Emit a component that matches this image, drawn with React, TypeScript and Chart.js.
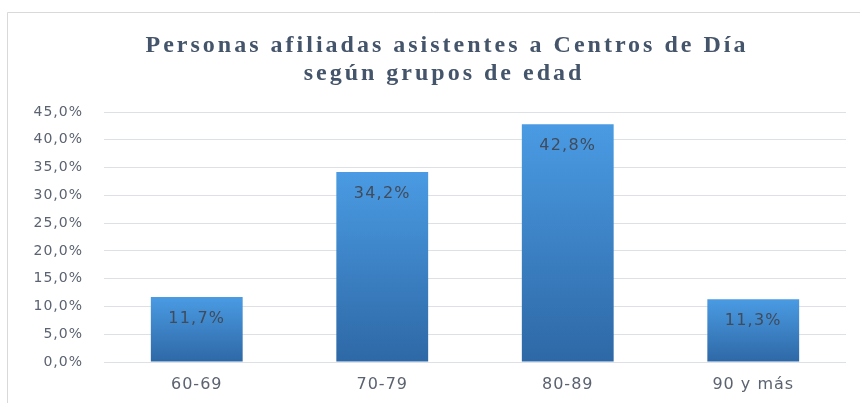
import React, { useEffect, useRef } from "react";
import { Chart, registerables } from "chart.js";

Chart.register(...registerables);

const categories = ["60-69", "70-79", "80-89", "90 y más"];
const values = [11.7, 34.2, 42.8, 11.3];
const titleLines = ["Personas afiliadas asistentes a Centros de Día", "según grupos de edad"];
const yMax = 45;
const yStep = 5;

const fmt = (v: number) => v.toFixed(1).replace(".", ",") + "%";

export default function App() {
  const ref = useRef<HTMLCanvasElement | null>(null);
  useEffect(() => {
    const canvas = ref.current;
    if (!canvas) return;

    const frame = {
      id: "frame",
      beforeDraw(chart: any) {
        const c = chart.ctx;
        c.save();
        c.fillStyle = "#ffffff";
        c.fillRect(0, 0, chart.width, chart.height);
        c.strokeStyle = "#d9d9d9";
        c.lineWidth = 1;
        c.beginPath();
        c.moveTo(7.5, chart.height);
        c.lineTo(7.5, 12.5);
        c.lineTo(chart.width, 12.5);
        c.stroke();
        c.fillStyle = "#44546a";
        c.font = "bold 24px 'Liberation Serif', 'Times New Roman', serif";
        (c as any).letterSpacing = "3px";
        c.textAlign = "center";
        c.textBaseline = "alphabetic";
        c.fillText(titleLines[0], 447, 52);
        c.fillText(titleLines[1], 444, 80);
        c.restore();
        (c as any).letterSpacing = "1px";
      },
      afterDraw(chart: any) {
        (chart.ctx as any).letterSpacing = "0px";
      },
    };

    const labels = {
      id: "barLabels",
      afterDatasetsDraw(chart: any) {
        const c = chart.ctx;
        const meta = chart.getDatasetMeta(0);
        c.save();
        c.fillStyle = "#414b5a";
        c.font = "16px 'DejaVu Sans', Verdana, sans-serif";
        (c as any).letterSpacing = "1.2px";
        c.textAlign = "center";
        c.textBaseline = "middle";
        meta.data.forEach((bar: any, i: number) => {
          c.fillText(fmt(values[i]), bar.x, bar.y + 22);
        });
        c.restore();
      },
    };

    const chart = new Chart(canvas, {
      type: "bar",
      data: {
        labels: categories,
        datasets: [
          {
            data: values,
            backgroundColor: (ctx: any) => {
              const ch = ctx.chart;
              const area = ch.chartArea;
              if (!area || ctx.raw === undefined) return "#3c82c8";
              const yScale = ch.scales.y;
              const top = yScale.getPixelForValue(ctx.raw);
              const bottom = yScale.getPixelForValue(0);
              const g = ch.ctx.createLinearGradient(0, top, 0, bottom);
              g.addColorStop(0, "#4a9be3");
              g.addColorStop(1, "#2e68a6");
              return g;
            },
            borderWidth: 0,
            categoryPercentage: 1,
            barPercentage: 0.495,
          },
        ],
      },
      options: {
        responsive: false,
        animation: false,
        layout: { padding: { top: 112, right: 14, bottom: 0, left: 0 } },
        plugins: {
          legend: { display: false },
          title: { display: false },
          tooltip: { enabled: false },
        },
        scales: {
          x: {
            afterFit: (s: any) => {
              s.height = 41;
            },
            grid: { display: false, drawTicks: false },
            border: { display: false },
            ticks: {
              color: "#5b6270",
              padding: 13,
              font: { family: "'DejaVu Sans', Verdana, sans-serif", size: 16 },
            },
          },
          y: {
            min: 0,
            max: yMax,
            afterFit: (s: any) => {
              s.width = 104;
            },
            grid: { color: "#dde1e6", drawTicks: false, lineWidth: 1 },
            border: { display: false },
            ticks: {
              stepSize: yStep,
              color: "#5b6270",
              padding: 21,
              font: { family: "'DejaVu Sans', Verdana, sans-serif", size: 14 },
              callback: (v: any) => fmt(Number(v)),
            },
          },
        },
      },
      plugins: [frame, labels],
    });
    return () => chart.destroy();
  }, []);

  return (
    <div style={{ position: "absolute", left: 0, top: 0, width: 860, height: 403 }}>
      <canvas ref={ref} width={860} height={403} style={{ display: "block" }} />
    </div>
  );
}
